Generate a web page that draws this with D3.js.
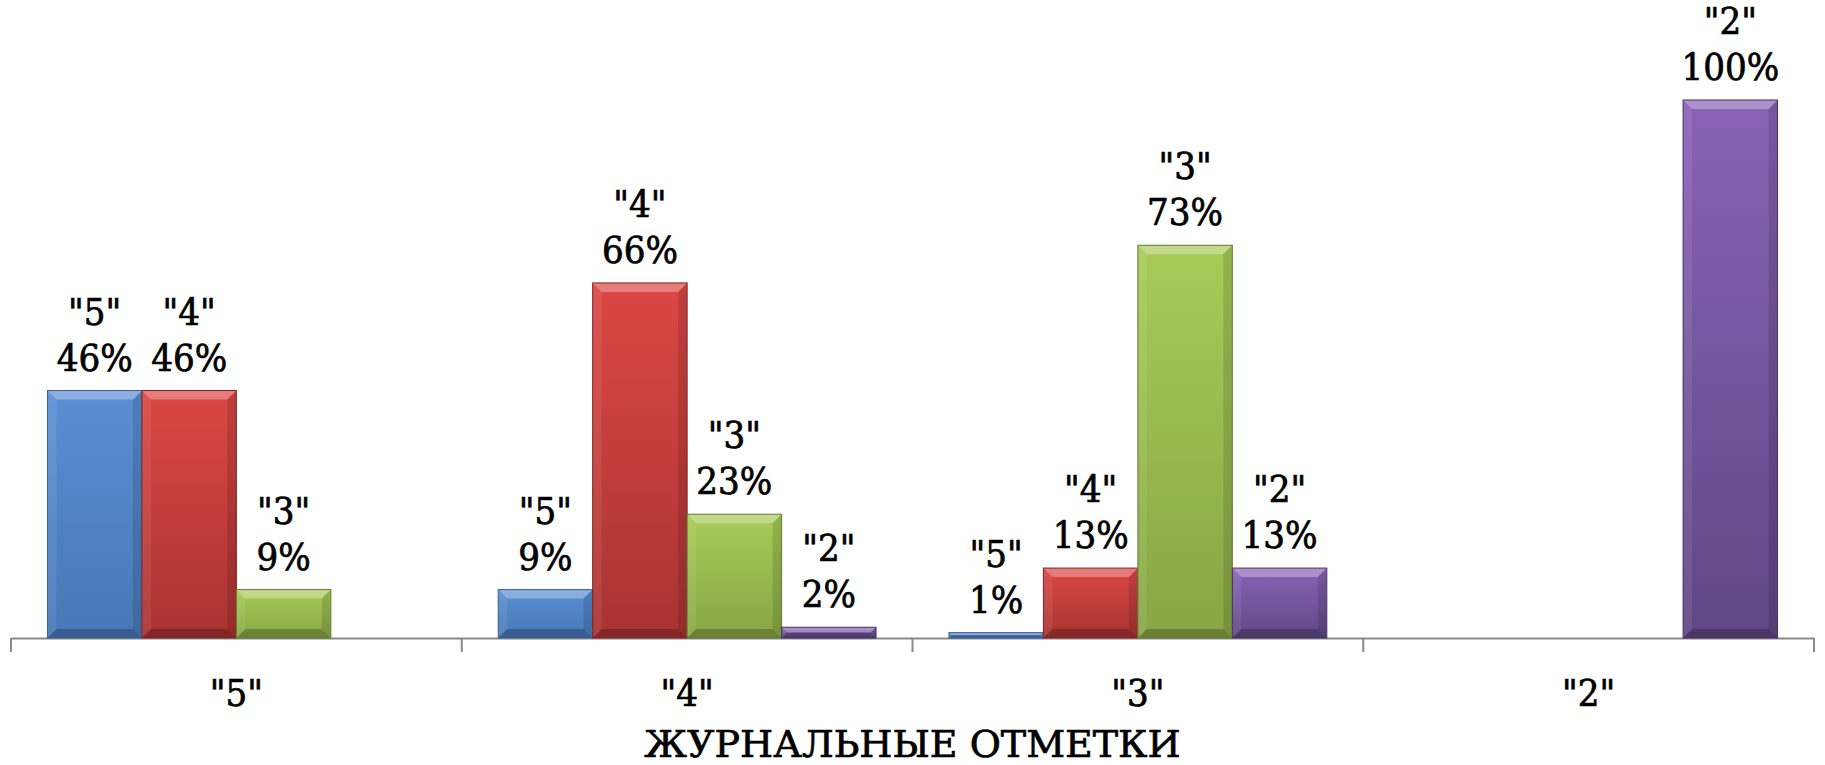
<!DOCTYPE html>
<html>
<head>
<meta charset="utf-8">
<script src="https://cdn.jsdelivr.net/npm/d3@7"></script>
<style>
  html, body { margin: 0; padding: 0; background: #fff; }
  svg { display: block; }
  .lbl { font-family: "DejaVu Serif Condensed", "DejaVu Serif", serif; font-stretch: condensed; font-size: 38px; fill: #000; stroke: #000; stroke-width: 0.7px; }
  .title { font-family: "DejaVu Serif", serif; font-stretch: normal; }
</style>
</head>
<body>
<svg id="chart" width="1825" height="765"></svg>
<script>
// categories on the x axis and the four series (grade in the journal)
const categories = ['"5"', '"4"', '"3"', '"2"'];
const seriesNames = ['"5"', '"4"', '"3"', '"2"'];
const values5 = [46, 9, 1, 0];
const values4 = [46, 66, 13, 0];
const values3 = [9, 23, 73, 0];
const values2 = [0, 2, 13, 100];
const axisTitle = 'ЖУРНАЛЬНЫЕ ОТМЕТКИ';

const seriesValues = [values5, values4, values3, values2];
const colors = [
  { top: '#5a8fd3', bottom: '#4777b6', edge: '#3a5f92' },
  { top: '#db4744', bottom: '#a83331', edge: '#7d2624' },
  { top: '#a8cb57', bottom: '#88a645', edge: '#627a30' },
  { top: '#8a63b6', bottom: '#5f4785', edge: '#45335f' }
];

const svg = d3.select('#chart');
const margin = { top: 100, right: 11, bottom: 127, left: 11 };
const width = 1825, height = 765;
const baseY = height - margin.bottom; // 638

const x0 = d3.scaleBand()
  .domain(categories)
  .range([margin.left, width - margin.right])
  .padding(0);

const x1 = d3.scaleBand()
  .domain(seriesNames)
  .range([0, x0.bandwidth()])
  .paddingInner(0)
  .paddingOuter(0.386);

const y = d3.scaleLinear()
  .domain([0, 100])
  .range([baseY, margin.top]);

// gradients for the bar faces
const defs = svg.append('defs');
colors.forEach((c, i) => {
  const g = defs.append('linearGradient')
    .attr('id', 'grad' + i)
    .attr('x1', 0).attr('y1', 0).attr('x2', 0).attr('y2', 1);
  g.append('stop').attr('offset', '0%').attr('stop-color', c.top);
  g.append('stop').attr('offset', '100%').attr('stop-color', c.bottom);
});

// flatten data into bars
const bars = [];
categories.forEach((cat, ci) => {
  seriesNames.forEach((s, si) => {
    const v = seriesValues[si][ci];
    if (v > 0) bars.push({ cat, series: s, si, value: v });
  });
});

// axis: line, tick marks at category borders, category labels
const xAxis = d3.axisBottom(x0)
  .tickSize(0)
  .tickPadding(41);

const axisG = svg.append('g')
  .attr('transform', `translate(0, ${baseY})`)
  .call(xAxis);

axisG.select('.domain')
  .attr('stroke', '#8a8a8a')
  .attr('stroke-width', 2);

axisG.selectAll('.tick text')
  .attr('class', 'lbl')
  .attr('font-size', null)
  .attr('font-family', null);

const borders = categories.map((c) => x0(c)).concat([x0.range()[1]]);
axisG.selectAll('.border')
  .data(borders)
  .enter()
  .append('line')
  .attr('class', 'border')
  .attr('x1', (d) => d)
  .attr('x2', (d) => d)
  .attr('y1', 0)
  .attr('y2', 14)
  .attr('stroke', '#8a8a8a')
  .attr('stroke-width', 2);

// bars with a bevelled look
const barG = svg.append('g')
  .selectAll('g')
  .data(bars)
  .enter()
  .append('g')
  .attr('transform', (d) => `translate(${x0(d.cat) + x1(d.series)}, ${y(d.value)})`);

barG.each(function (d) {
  const g = d3.select(this);
  const w = x1.bandwidth();
  const h = baseY - y(d.value);
  const b = Math.min(9, h / 2);
  g.append('rect')
    .attr('width', w)
    .attr('height', h)
    .attr('fill', `url(#grad${d.si})`);
  const face = (pts, fill, op) =>
    g.append('polygon')
      .attr('points', pts.map((p) => p.join(',')).join(' '))
      .attr('fill', fill)
      .attr('fill-opacity', op);
  face([[0, 0], [w, 0], [w - b, b], [b, b]], '#fff', 0.3);
  face([[0, 0], [b, b], [b, h - b], [0, h]], '#fff', 0.08);
  face([[w, 0], [w, h], [w - b, h - b], [w - b, b]], '#000', 0.12);
  face([[0, h], [b, h - b], [w - b, h - b], [w, h]], '#000', 0.22);
  g.append('rect')
    .attr('width', w)
    .attr('height', h)
    .attr('fill', 'none')
    .attr('stroke', colors[d.si].edge)
    .attr('stroke-width', 1);
});

// value labels: series name above percent
const labels = svg.append('g')
  .selectAll('text')
  .data(bars)
  .enter()
  .append('text')
  .attr('class', 'lbl')
  .attr('text-anchor', 'middle')
  .attr('x', (d) => x0(d.cat) + x1(d.series) + x1.bandwidth() / 2)
  .attr('y', (d) => y(d.value) - 20);

labels.append('tspan')
  .attr('x', (d) => x0(d.cat) + x1(d.series) + x1.bandwidth() / 2)
  .attr('dy', -46)
  .text((d) => d.series);

labels.append('tspan')
  .attr('x', (d) => x0(d.cat) + x1(d.series) + x1.bandwidth() / 2)
  .attr('dy', 46)
  .text((d) => d.value + '%');

// axis title
svg.append('text')
  .attr('class', 'lbl title')
  .attr('text-anchor', 'middle')
  .attr('x', (x0.range()[0] + x0.range()[1]) / 2)
  .attr('y', 757)
  .text(axisTitle);
</script>
</body>
</html>
